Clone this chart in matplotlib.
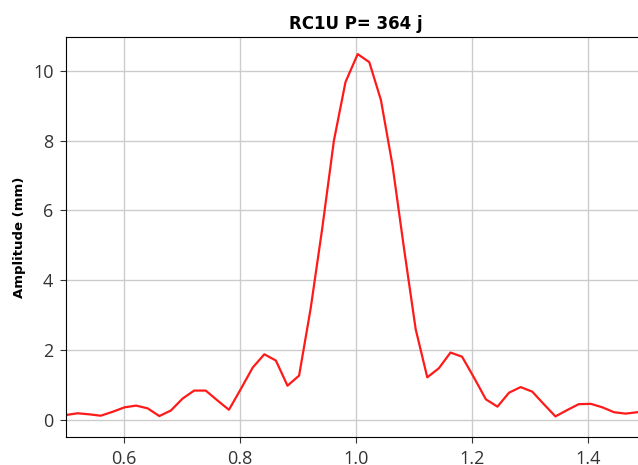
import matplotlib
matplotlib.use("Agg")
import matplotlib.pyplot as plt

plt.rcParams['font.family'] = ['Open Sans', 'DejaVu Sans']

title = "RC1U P= 364 j"
ylabel = "Amplitude (mm)"

freq = [0.500, 0.520, 0.540, 0.560, 0.580, 0.601, 0.621, 0.641, 0.661, 0.681,
        0.701, 0.721, 0.741, 0.761, 0.781, 0.802, 0.822, 0.842, 0.862, 0.882,
        0.902, 0.922, 0.942, 0.962, 0.982, 1.003, 1.023, 1.043, 1.063, 1.083,
        1.103, 1.123, 1.143, 1.163, 1.183, 1.204, 1.224, 1.244, 1.264, 1.284,
        1.304, 1.324, 1.344, 1.364, 1.384, 1.405, 1.425, 1.445, 1.465, 1.485,
        1.505]
amp = [0.14, 0.19, 0.16, 0.12, 0.23, 0.36, 0.41, 0.33, 0.11, 0.27,
       0.61, 0.84, 0.84, 0.56, 0.29, 0.90, 1.50, 1.88, 1.70, 0.98,
       1.27, 3.20, 5.50, 8.00, 9.68, 10.48, 10.25, 9.17, 7.30, 4.90,
       2.60, 1.22, 1.48, 1.93, 1.81, 1.20, 0.59, 0.38, 0.78, 0.94,
       0.81, 0.45, 0.10, 0.28, 0.45, 0.46, 0.36, 0.22, 0.18, 0.22,
       0.25]

xticks = [0.6, 0.8, 1.0, 1.2, 1.4]
yticks = [0, 2, 4, 6, 8, 10]

fig = plt.figure(figsize=(6.38, 4.65), dpi=100)
ax = fig.add_axes([0.1034, 0.0602, 0.909, 0.8602])
ax.plot(freq, amp, color='#ff1a1a', linewidth=1.6)
ax.set_xlim(0.5, 1.5)
ax.set_ylim(-0.49, 10.97)
ax.set_xticks(xticks)
ax.set_yticks(yticks)
ax.set_xticklabels([f"{v:.1f}" for v in xticks])
ax.set_yticklabels([str(v) for v in yticks])
ax.tick_params(labelsize=13, labelcolor='#333333', color='#333333', length=4.5, pad=4.5)
ax.grid(True, color='#cccccc', linewidth=1)
ax.set_axisbelow(True)
ax.set_title(title, fontsize=12, fontweight='bold', pad=6,
             family=['DejaVu Sans'])
ax.set_ylabel(ylabel, fontsize=9.5, fontweight='bold', family=['DejaVu Sans'],
              labelpad=5)
fig.savefig("out.png", dpi=100)
